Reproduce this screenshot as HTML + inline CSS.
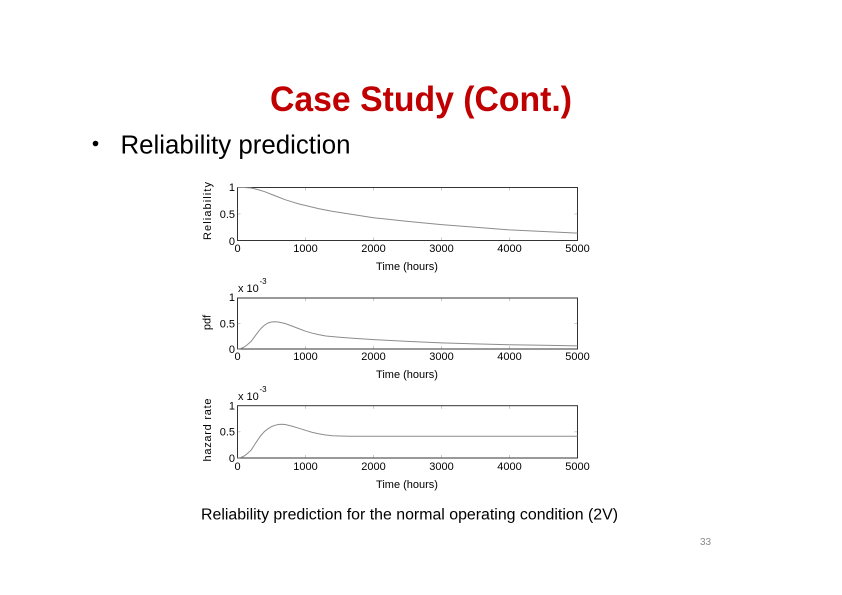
<!DOCTYPE html>
<html><head><meta charset="utf-8"><style>
html,body{margin:0;padding:0;background:#fff;}
svg{display:block;}
</style></head><body>
<svg width="842" height="595" viewBox="0 0 842 595" xmlns="http://www.w3.org/2000/svg">
<rect width="842" height="595" fill="#fff"/>
<!-- Title -->
<text x="270" y="111" font-family="Liberation Sans, sans-serif" font-weight="bold" font-size="35" fill="#c00000" textLength="302" lengthAdjust="spacingAndGlyphs">Case Study (Cont.)</text>
<!-- Bullet -->
<circle cx="95.5" cy="143.5" r="2.8" fill="#000"/>
<text x="120.5" y="153.5" font-family="Liberation Sans, sans-serif" font-size="25.5" fill="#000" textLength="230" lengthAdjust="spacingAndGlyphs">Reliability prediction</text>

<g font-family="Liberation Sans, sans-serif" font-size="11" fill="#000">
<!-- ===== Plot 1 ===== -->
<g stroke="#c8c8c8" stroke-width="1" fill="none">
<path d="M305.5 187.5v3M373.5 187.5v3M441.5 187.5v3M509.5 187.5v3M305.5 240.5v-3M373.5 240.5v-3M441.5 240.5v-3M509.5 240.5v-3M237.5 214h3M577.5 214h-3"/>
</g>
<rect x="237.5" y="187.5" width="340" height="53" fill="none" stroke="#333" stroke-width="1"/>
<polyline fill="none" stroke="#8c8c8c" stroke-width="1" points="237.5,187.5 244.3,187.5 251.1,188.0 257.9,189.6 264.7,191.7 271.5,194.4 278.3,197.0 285.1,199.7 291.9,201.8 298.7,203.9 305.5,205.5 319.1,208.7 332.7,211.4 346.3,213.5 359.9,215.6 373.5,217.7 407.5,221.4 441.5,224.6 475.5,227.3 509.5,229.9 543.5,231.5 577.5,233.1"/>
<g text-anchor="end">
<text x="235" y="191">1</text>
<text x="235" y="218">0.5</text>
<text x="235" y="245">0</text>
</g>
<g text-anchor="middle">
<text x="237.5" y="252">0</text>
<text x="305.5" y="252">1000</text>
<text x="373.5" y="252">2000</text>
<text x="441.5" y="252">3000</text>
<text x="509.5" y="252">4000</text>
<text x="577.5" y="252">5000</text>
<text x="407" y="270">Time (hours)</text>
</g>
<text transform="translate(211,211) rotate(-90)" text-anchor="middle" textLength="58" lengthAdjust="spacing">Reliability</text>

<!-- ===== Plot 2 ===== -->
<g stroke="#c8c8c8" stroke-width="1" fill="none">
<path d="M305.5 298v3M373.5 298v3M441.5 298v3M509.5 298v3M305.5 349v-3M373.5 349v-3M441.5 349v-3M509.5 349v-3M237.5 323.5h3M577.5 323.5h-3"/>
</g>
<rect x="237.5" y="298" width="340" height="51" fill="none" stroke="#333" stroke-width="1"/>
<polyline fill="none" stroke="#8c8c8c" stroke-width="1" points="237.5,349 240.9,348.5 244.3,347.0 247.7,344.4 251.1,341.4 254.5,336.8 257.9,332.2 261.3,328.1 264.7,325.0 268.1,323.0 271.5,322.0 274.9,321.7 278.3,322.0 285.1,323.5 291.9,326.0 298.7,328.6 305.5,331.2 312.3,333.2 319.1,334.7 325.9,336.0 339.5,337.3 353.1,338.3 373.5,339.6 407.5,341.4 441.5,342.9 475.5,343.9 509.5,344.7 543.5,345.2 577.5,345.9"/>
<g text-anchor="end">
<text x="235" y="301">1</text>
<text x="235" y="327.5">0.5</text>
<text x="235" y="353">0</text>
</g>
<text x="238" y="292">x 10</text>
<text x="259.5" y="284" font-size="8">-3</text>
<g text-anchor="middle">
<text x="237.5" y="360">0</text>
<text x="305.5" y="360">1000</text>
<text x="373.5" y="360">2000</text>
<text x="441.5" y="360">3000</text>
<text x="509.5" y="360">4000</text>
<text x="577.5" y="360">5000</text>
<text x="407" y="378">Time (hours)</text>
</g>
<text transform="translate(210.5,322.5) rotate(-90)" text-anchor="middle">pdf</text>

<!-- ===== Plot 3 ===== -->
<g stroke="#c8c8c8" stroke-width="1" fill="none">
<path d="M305.5 405.7v3M373.5 405.7v3M441.5 405.7v3M509.5 405.7v3M305.5 458v-3M373.5 458v-3M441.5 458v-3M509.5 458v-3M237.5 431.8h3M577.5 431.8h-3"/>
</g>
<rect x="237.5" y="405.7" width="340" height="52.3" fill="none" stroke="#333" stroke-width="1"/>
<polyline fill="none" stroke="#8c8c8c" stroke-width="1" points="237.5,458 240.9,457.5 244.3,455.9 247.7,453.3 251.1,450.2 254.5,444.9 257.9,439.7 261.3,435.0 264.7,431.3 268.1,428.7 271.5,426.6 274.9,425.3 278.3,424.5 281.7,424.3 285.1,424.5 291.9,426.1 298.7,428.2 305.5,430.3 312.3,432.4 319.1,433.9 325.9,435.0 332.7,435.8 339.5,436.0 349.7,436.3 577.5,436.3"/>
<g text-anchor="end">
<text x="235" y="409.5">1</text>
<text x="235" y="435.5">0.5</text>
<text x="235" y="462">0</text>
</g>
<text x="238" y="400">x 10</text>
<text x="259.5" y="392" font-size="8">-3</text>
<g text-anchor="middle">
<text x="237.5" y="470">0</text>
<text x="305.5" y="470">1000</text>
<text x="373.5" y="470">2000</text>
<text x="441.5" y="470">3000</text>
<text x="509.5" y="470">4000</text>
<text x="577.5" y="470">5000</text>
<text x="407" y="488">Time (hours)</text>
</g>
<text transform="translate(211,430) rotate(-90)" text-anchor="middle" textLength="63" lengthAdjust="spacing">hazard rate</text>
</g>

<!-- Caption -->
<text x="201" y="519.5" font-family="Liberation Sans, sans-serif" font-size="15.5" fill="#000" textLength="417" lengthAdjust="spacingAndGlyphs">Reliability prediction for the normal operating condition (2V)</text>
<!-- Page number -->
<text x="700" y="545" font-family="Liberation Sans, sans-serif" font-size="10" fill="#8a8a8a">33</text>
</svg>
</body></html>
